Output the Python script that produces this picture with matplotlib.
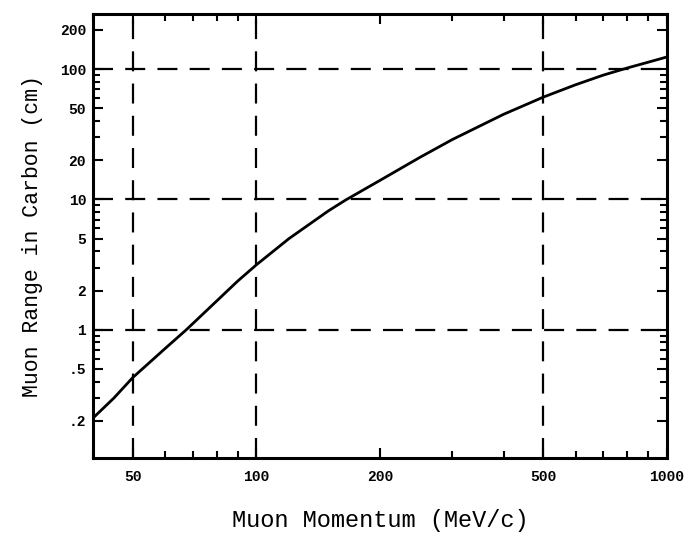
import numpy as np
import matplotlib.pyplot as plt
from matplotlib.ticker import FixedLocator, FixedFormatter, LogLocator, NullFormatter

# muon momentum (MeV/c) vs range in carbon (cm)
momentum = [40, 45, 50, 60, 67.5, 80, 90, 100, 120, 150, 165, 200, 250, 300, 400, 500, 600, 700, 800, 900, 1000]
range_cm = [0.21, 0.30, 0.43, 0.72, 1.0, 1.66, 2.36, 3.15, 5.0, 8.2, 9.9, 14.0, 21.0, 28.8, 45.0, 61.0, 76.0, 90.0, 102.0, 113.0, 124.0]

xticks = [50, 100, 200, 500, 1000]
xticklabels = ['50', '100', '200', '500', '1000']
yticks = [0.2, 0.5, 1, 2, 5, 10, 20, 50, 100, 200]
yticklabels = ['.2', '.5', '1', '2', '5', '10', '20', '50', '100', '200']
xgrid = [50, 100, 500]
ygrid = [1, 10, 100]

fig = plt.figure(figsize=(6.84, 5.38), dpi=100)
ax = fig.add_axes([0.136, 0.149, 0.839, 0.825])

ax.plot(momentum, range_cm, color='black', lw=2.0)

for xv in xgrid:
    ax.axvline(xv, color='black', lw=1.6, dashes=(9, 5.5))
for yv in ygrid:
    ax.axhline(yv, color='black', lw=1.6, dashes=(9, 5.5))

ax.set_xscale('log')
ax.set_yscale('log')
ax.set_xlim(40, 1000)
ax.set_ylim(0.104, 265)

ax.xaxis.set_major_locator(FixedLocator(xticks))
ax.xaxis.set_major_formatter(FixedFormatter(xticklabels))
ax.xaxis.set_minor_locator(LogLocator(base=10, subs=np.arange(2, 10)))
ax.xaxis.set_minor_formatter(NullFormatter())
ax.yaxis.set_major_locator(FixedLocator(yticks))
ax.yaxis.set_major_formatter(FixedFormatter(yticklabels))
ax.yaxis.set_minor_locator(LogLocator(base=10, subs=np.arange(2, 10)))
ax.yaxis.set_minor_formatter(NullFormatter())

ax.tick_params(which='both', direction='in', top=True, right=True, width=1.5, color='black')
ax.tick_params(which='major', length=7)
ax.tick_params(axis='x', which='major', pad=9)
ax.tick_params(axis='y', which='major', pad=5)
ax.tick_params(which='minor', length=5)

for lab in ax.get_xticklabels() + ax.get_yticklabels():
    lab.set_family('Liberation Mono')
    lab.set_fontweight('bold')
    lab.set_fontsize(10.5)

for sp in ax.spines.values():
    sp.set_linewidth(2.2)

ax.set_xlabel('Muon Momentum (MeV/c)', family='Liberation Mono', fontsize=17, labelpad=18)
ax.set_ylabel('Muon Range in Carbon (cm)', family='Liberation Mono', fontsize=15.5, labelpad=12)

fig.savefig('out.png', dpi=100)
